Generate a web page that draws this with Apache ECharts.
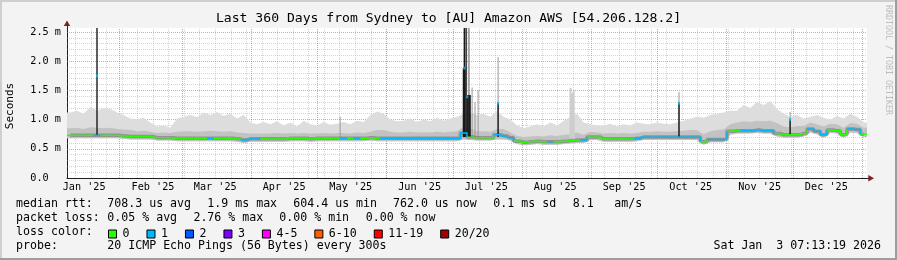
<!DOCTYPE html>
<html><head><meta charset="utf-8">
<script src="https://cdn.jsdelivr.net/npm/echarts@6/dist/echarts.min.js"></script>
<style>html,body{margin:0;padding:0;background:#f3f3f3}#c{width:897px;height:260px}</style>
</head><body><div id="c"></div>
<script>
const DAY = 86400000;
const START = Date.UTC(2025, 0, 8, 7, 13, 19);
const END = Date.UTC(2026, 0, 3, 7, 13, 19);
const STEP_DAYS = 3;          // one sample every 3 days, centred at 1.5 + 3*i
const FONT = '"DejaVu Sans Mono", monospace';

const monthLabels = ["Jan '25","Feb '25","Mar '25","Apr '25","May '25","Jun '25","Jul '25","Aug '25","Sep '25","Oct '25","Nov '25","Dec '25"];
const yTickValues = [0, 0.5, 1.0, 1.5, 2.0, 2.5];

// median rtt (ms)
const median = [
 0.73,0.73,0.73,0.73,0.73,0.73,0.73,0.73,0.72,0.71,
 0.71,0.71,0.71,0.69,0.69,0.69,0.68,0.68,0.68,0.68,
 0.68,0.68,0.68,0.68,0.68,0.67,0.65,0.67,0.67,0.67,
 0.67,0.67,0.67,0.68,0.68,0.68,0.67,0.68,0.68,0.68,
 0.68,0.68,0.68,0.68,0.68,0.69,0.68,0.68,0.68,0.68,
 0.68,0.68,0.68,0.68,0.68,0.68,0.68,0.68,0.68,0.77,
 0.70,0.69,0.69,0.69,0.74,0.72,0.69,0.63,0.61,0.62,
 0.63,0.62,0.62,0.62,0.63,0.64,0.65,0.65,0.70,0.70,
 0.67,0.67,0.67,0.67,0.67,0.68,0.70,0.70,0.70,0.70,
 0.70,0.70,0.70,0.70,0.70,0.62,0.66,0.66,0.66,0.80,
 0.81,0.81,0.81,0.82,0.81,0.81,0.76,0.74,0.74,0.74,
 0.76,0.84,0.80,0.74,0.82,0.81,0.74,0.84,0.83,0.75
];
// lost pings out of 20 (index into loss colour table)
const loss = [
 0,0,0,0,1,0,0,0,0,0,
 0,0,0,0,0,0,0,0,0,0,
 0,1,0,0,0,0,1,1,1,0,
 0,0,0,0,0,0,0,0,0,0,
 0,1,0,1,0,0,0,1,1,1,
 1,1,1,1,1,1,1,1,1,1,
 0,0,0,0,1,1,1,0,0,0,
 0,0,1,0,0,0,0,1,0,0,
 0,0,0,0,0,1,1,1,1,1,
 1,1,1,1,1,0,1,1,1,0,
 0,1,1,1,1,1,0,0,0,0,
 0,1,1,1,0,0,0,1,1,0
];
// smoke: lowest ping, inner band top, highest ping (ms)
const smokeLo = [
 0.68,0.68,0.68,0.68,0.68,0.68,0.68,0.68,0.67,0.66,
 0.66,0.66,0.66,0.64,0.64,0.64,0.63,0.63,0.63,0.63,
 0.63,0.63,0.63,0.63,0.63,0.62,0.60,0.62,0.62,0.62,
 0.62,0.62,0.62,0.63,0.63,0.63,0.62,0.63,0.63,0.63,
 0.63,0.63,0.63,0.63,0.63,0.64,0.63,0.63,0.63,0.63,
 0.63,0.63,0.63,0.63,0.63,0.63,0.63,0.63,0.63,0.66,
 0.65,0.64,0.64,0.64,0.66,0.66,0.64,0.58,0.56,0.57,
 0.58,0.57,0.57,0.57,0.58,0.59,0.60,0.60,0.65,0.65,
 0.62,0.62,0.62,0.62,0.62,0.63,0.65,0.65,0.65,0.65,
 0.65,0.65,0.65,0.65,0.65,0.57,0.61,0.61,0.61,0.74,
 0.76,0.76,0.76,0.77,0.76,0.76,0.71,0.69,0.69,0.69,
 0.71,0.78,0.75,0.69,0.77,0.76,0.69,0.78,0.77,0.70
];
const smokeMid = [
 0.85,0.86,0.84,0.87,0.86,0.85,0.86,0.84,0.83,0.82,
 0.80,0.81,0.79,0.77,0.78,0.77,0.79,0.80,0.80,0.79,
 0.80,0.81,0.80,0.79,0.80,0.78,0.77,0.76,0.76,0.76,
 0.76,0.77,0.76,0.77,0.76,0.77,0.76,0.76,0.77,0.76,
 0.77,0.77,0.76,0.78,0.77,0.79,0.82,0.82,0.79,0.78,
 0.78,0.79,0.78,0.78,0.78,0.79,0.78,0.79,0.80,0.88,
 0.85,0.80,0.80,0.79,0.84,0.84,0.78,0.72,0.70,0.71,
 0.72,0.71,0.73,0.72,0.74,0.75,0.78,0.74,0.79,0.78,
 0.76,0.77,0.76,0.77,0.76,0.77,0.79,0.79,0.80,0.79,
 0.79,0.80,0.81,0.82,0.82,0.75,0.80,0.82,0.83,0.92,
 0.95,0.97,0.96,0.98,0.97,0.98,0.94,0.88,0.87,0.89,
 0.89,0.95,0.92,0.88,0.93,0.92,0.86,0.94,0.93,0.86
];
const smokeHi = [
 1.12,1.15,1.10,1.22,1.15,1.20,1.18,1.12,1.08,1.02,
 1.00,1.03,0.95,0.88,0.90,0.86,1.02,1.05,1.08,1.04,
 1.12,1.08,1.13,1.06,1.10,1.02,1.08,0.95,0.92,0.96,
 0.92,0.97,0.90,0.95,0.88,0.98,0.92,0.90,0.96,0.91,
 0.93,0.96,0.92,0.98,0.96,1.08,1.14,1.10,1.00,0.97,
 0.98,1.02,0.96,1.00,0.97,1.03,0.98,1.02,1.05,1.10,
 1.12,1.08,1.10,1.05,1.15,1.05,1.00,0.90,0.85,0.88,
 0.92,0.88,0.95,0.90,0.98,1.05,1.10,0.95,0.92,0.90,
 0.90,0.93,0.88,0.92,0.90,0.95,0.93,0.92,0.95,0.93,
 0.92,0.95,0.98,1.02,1.05,1.03,1.08,1.10,1.12,1.15,
 1.15,1.25,1.20,1.30,1.25,1.32,1.18,1.10,1.05,1.08,
 1.02,1.05,1.08,1.03,1.00,1.06,1.02,1.10,1.05,0.95
];
// short events (day offset from start, base, top) in ms
const spikeLightDay  = [226.6, 227.3, 228.0];
const spikeLightBase = [0.64, 0.64, 0.64];
const spikeLightTop  = [1.54, 1.45, 1.50];
const spikeGrayDay   = [122.9, 180.6, 181.0, 182.3, 183.6, 185.0, 194.0, 275.4, 325.4];
const spikeGrayBase  = [0.68, 0.70, 0.70, 0.70, 0.70, 0.70, 0.70, 0.70, 0.75];
const spikeGrayTop   = [1.05, 2.57, 2.57, 1.55, 1.30, 1.50, 2.07, 1.47, 1.13];
const spikeDarkDay   = [13.5, 178.4, 178.8, 179.1, 179.6, 180.1, 180.5, 181.0, 181.4, 194.0, 275.4, 325.4];
const spikeDarkBase  = [0.72, 0.70, 0.70, 0.70, 0.70, 0.70, 0.70, 0.70, 0.70, 0.70, 0.70, 0.75];
const spikeDarkTop   = [2.57, 1.88, 2.57, 1.88, 2.57, 1.42, 1.42, 1.42, 1.42, 1.28, 1.28, 1.00];
const medianSpikeDay = [13.5, 178.8, 180.1, 194.0, 275.4, 325.4];
const medianSpikeVal = [1.75, 1.88, 1.39, 1.28, 1.28, 1.00];

const lossNames  = ['0','1','2','3','4-5','6-10','11-19','20/20'];
const lossColors = ['#26ff00','#00b8ff','#0059ff','#7e00ff','#ff00ff','#ff5e00','#ff0000','#a10000'];

// ---------- build ----------
const ts = median.map((_, i) => START + (STEP_DAYS / 2 + STEP_DAYS * i) * DAY);
const smokeT = [START].concat(ts, [END]);
const pad = arr => [arr[0]].concat(arr, [arr[arr.length - 1]]);
const loP = pad(smokeLo), midP = pad(smokeMid), hiP = pad(smokeHi);
const medData = median.map((v, i) => [ts[i], v, loss[i], i + 1 < median.length ? median[i + 1] : v]);
const spikes = (days, base, top) => days.map((d, i) => [START + d * DAY, base[i], top[i]]);

const monthStarts = []; for (let m = 1; m < 12; m++) monthStarts.push(Date.UTC(2025, m, 1));
monthStarts.push(Date.UTC(2026, 0, 1));
const monthMids = monthLabels.map((_, m) => Date.UTC(2025, m, 1) + 15 * DAY);
const weekLines = []; for (let t = Date.UTC(2025, 0, 12); t < END; t += 7 * DAY) weekLines.push(t);

const minorGrid = {color: 'rgba(143,143,143,0.38)', width: 1, type: [1, 1]};
const majorGrid = {color: 'rgba(222,80,80,0.55)', width: 1, type: [1, 1]};
const gridLines = [];
weekLines.forEach(t => gridLines.push({xAxis: t, lineStyle: minorGrid}));
for (let k = 1; k <= 25; k++) if (k % 5) gridLines.push({yAxis: k / 10, lineStyle: minorGrid});
monthStarts.forEach(t => gridLines.push({xAxis: t, lineStyle: majorGrid}));
for (let k = 1; k <= 5; k++) gridLines.push({yAxis: k / 2, lineStyle: majorGrid});

function smokeRender(params, api) {
  const bot = smokeT.map((t, i) => api.coord([t, loP[i]])).reverse();
  const mid = smokeT.map((t, i) => api.coord([t, midP[i]]));
  const hi = smokeT.map((t, i) => api.coord([t, hiP[i]]));
  return {type: 'group', children: [
    {type: 'polygon', shape: {points: hi.concat(bot)}, style: {fill: '#dddddd'}},
    {type: 'polygon', shape: {points: mid.concat(bot)}, style: {fill: '#c2c2c2'}}
  ]};
}
function spikeRender(color, width) {
  return function (params, api) {
    const a = api.coord([api.value(0), api.value(1)]);
    const b = api.coord([api.value(0), api.value(2)]);
    return {type: 'line', shape: {x1: a[0], y1: a[1], x2: b[0], y2: b[1]},
            style: {stroke: color, lineWidth: width}};
  };
}
function medianRender(params, api) {
  const t = api.value(0), v = api.value(1), l = api.value(2), nv = api.value(3);
  const p0 = api.coord([t - STEP_DAYS / 2 * DAY, v]);
  const p1 = api.coord([t + STEP_DAYS / 2 * DAY, v]);
  const p2 = api.coord([t + STEP_DAYS / 2 * DAY, nv]);
  return {type: 'polyline', shape: {points: [p0, p1, p2]},
          style: {stroke: lossColors[l], lineWidth: 1.4, fill: null}};
}

const chart = echarts.init(document.getElementById('c'), null, {renderer: 'canvas'});
const textEl = (x, y, text, size, extra) => ({
  type: 'text', x, y, silent: true,
  style: Object.assign({text, fill: '#000', font: size + 'px ' + FONT, align: 'left', verticalAlign: 'middle'}, extra || {})
});

const option = {
  animation: false,
  backgroundColor: '#f3f3f3',
  grid: {left: 67, right: 30, top: 28, bottom: 82, show: true, backgroundColor: '#ffffff', borderWidth: 0},
  xAxis: {
    type: 'value', min: START, max: END,
    axisLine: {show: true, lineStyle: {color: '#1f1f1f', width: 1}},
    axisTick: {show: false}, splitLine: {show: false},
    axisLabel: {customValues: monthMids, margin: 4, color: '#000', fontFamily: FONT, fontSize: 10.2,
      formatter: v => monthLabels[new Date(v).getUTCMonth()]}
  },
  yAxis: {
    type: 'value', min: 0, max: 2.568,
    axisLine: {show: true, lineStyle: {color: '#1f1f1f', width: 1}},
    axisTick: {show: false}, splitLine: {show: false},
    axisLabel: {customValues: yTickValues, margin: 6, color: '#000', fontFamily: FONT, fontSize: 10.2,
      formatter: v => v === 0 ? '0.0  ' : v.toFixed(1) + ' m'}
  },
  legend: {
    left: 108, top: 228, padding: 0, itemWidth: 8, itemHeight: 8, itemGap: 17, icon: 'rect',
    selectedMode: false, data: lossNames,
    itemStyle: {borderColor: '#000', borderWidth: 1},
    textStyle: {fontFamily: FONT, fontSize: 11.6, color: '#000', padding: [0, 0, 0, 1]}
  },
  series: [
    {type: 'line', name: 'gridlines', data: [[START, -1]], symbol: 'none', lineStyle: {opacity: 0}, z: 1,
     markLine: {silent: true, symbol: 'none', label: {show: false}, z: 1, data: gridLines, animation: false}},
    {type: 'custom', name: 'smoke', data: [[START, 0]], renderItem: smokeRender, clip: true, z: 2,
     encode: {x: 0, y: 1}, silent: true},
    {type: 'custom', name: 'spikeLight', data: spikes(spikeLightDay, spikeLightBase, spikeLightTop),
     renderItem: spikeRender('#cdcdcd', 2), clip: true, z: 4, encode: {x: 0, y: [1, 2]}},
    {type: 'custom', name: 'spikeGray', data: spikes(spikeGrayDay, spikeGrayBase, spikeGrayTop),
     renderItem: spikeRender('#9a9a9a', 1), clip: true, z: 4, encode: {x: 0, y: [1, 2]}},
    {type: 'line', name: 'core', data: median.map((v, i) => [ts[i], v]), step: 'middle', symbol: 'none',
     lineStyle: {color: 'rgba(60,60,60,0.35)', width: 3.5}, z: 5, silent: true},
    {type: 'custom', name: 'spikeDark', data: spikes(spikeDarkDay, spikeDarkBase, spikeDarkTop),
     renderItem: spikeRender('#1a1a1a', 1.4), clip: true, z: 6, encode: {x: 0, y: [1, 2]}},
    {type: 'custom', name: 'median', data: medData, renderItem: medianRender, clip: true, z: 7,
     encode: {x: 0, y: 1}},
    {type: 'scatter', name: 'medianSpike', data: medianSpikeDay.map((d, i) => [START + d * DAY, medianSpikeVal[i]]),
     symbol: 'rect', symbolSize: [2, 3], itemStyle: {color: '#00b8ff'}, z: 8, silent: true}
  ].concat(lossNames.map((n, k) => ({type: 'bar', name: n, data: [], itemStyle: {color: lossColors[k]}}))),
  graphic: [
    {type: 'rect', shape: {x: 0, y: 0, width: 897, height: 2}, style: {fill: '#cfcfcf'}, silent: true},
    {type: 'rect', shape: {x: 0, y: 0, width: 2, height: 260}, style: {fill: '#cfcfcf'}, silent: true},
    {type: 'rect', shape: {x: 0, y: 258, width: 897, height: 2}, style: {fill: '#9e9e9e'}, silent: true},
    {type: 'rect', shape: {x: 895, y: 0, width: 2, height: 260}, style: {fill: '#9e9e9e'}, silent: true},
    textEl(448.5, 18.7, 'Last 360 Days from Sydney to [AU] Amazon AWS [54.206.128.2]', 13.1, {align: 'center'}),
    {type: 'text', x: 10, y: 106, rotation: Math.PI / 2, silent: true,
     style: {text: 'Seconds', fill: '#000', font: '11px ' + FONT, align: 'center', verticalAlign: 'middle'}},
    {type: 'text', x: 888, y: 60, rotation: -Math.PI / 2, silent: true,
     style: {text: 'RRDTOOL / TOBI OETIKER', fill: '#bdbdbd', font: '8.3px ' + FONT, align: 'center', verticalAlign: 'middle'}},
    {type: 'line', shape: {x1: 67.5, y1: 28, x2: 67.5, y2: 24}, style: {stroke: '#1f1f1f', lineWidth: 1}, silent: true},
    {type: 'polygon', shape: {points: [[67, 20.5], [63.8, 26], [70.2, 26]]}, style: {fill: '#801f1f'}, silent: true},
    {type: 'line', shape: {x1: 867, y1: 178.5, x2: 869, y2: 178.5}, style: {stroke: '#1f1f1f', lineWidth: 1}, silent: true},
    {type: 'polygon', shape: {points: [[874, 178.2], [868.3, 175], [868.3, 181.4]]}, style: {fill: '#801f1f'}, silent: true},
    textEl(16, 204.3, 'median rtt:', 11.6),
    textEl(107.3, 204.3, '708.3 us avg', 11.6),
    textEl(207.3, 204.3, '1.9 ms max', 11.6),
    textEl(293.3, 204.3, '604.4 us min', 11.6),
    textEl(393, 204.3, '762.0 us now', 11.6),
    textEl(493.3, 204.3, '0.1 ms sd', 11.6),
    textEl(572.7, 204.3, '8.1', 11.6),
    textEl(614.3, 204.3, 'am/s', 11.6),
    textEl(16, 218.3, 'packet loss:', 11.6),
    textEl(107.3, 218.3, '0.05 % avg', 11.6),
    textEl(193.4, 218.3, '2.76 % max', 11.6),
    textEl(279.3, 218.3, '0.00 % min', 11.6),
    textEl(365.7, 218.3, '0.00 % now', 11.6),
    textEl(16, 232.3, 'loss color:', 11.6),
    textEl(16, 246.3, 'probe:', 11.6),
    textEl(107.3, 246.3, '20 ICMP Echo Pings (56 Bytes) every 300s', 11.6),
    textEl(881, 246.3, 'Sat Jan  3 07:13:19 2026', 11.6, {align: 'right'})
  ]
};
chart.setOption(option);
</script>
</body></html>
